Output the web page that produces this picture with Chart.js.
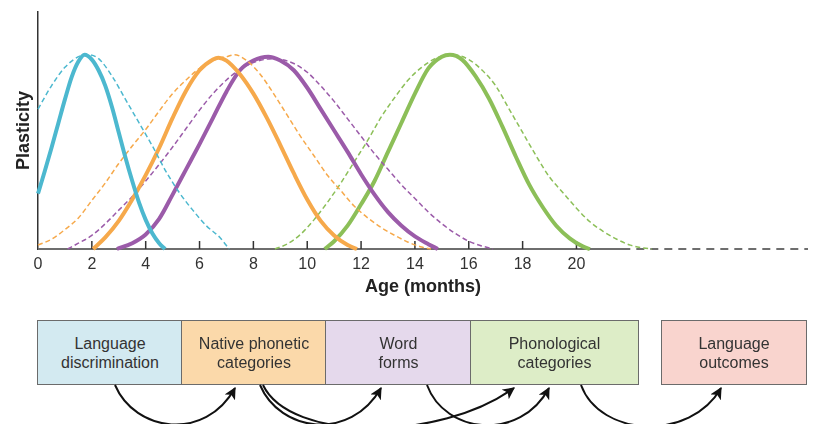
<!DOCTYPE html>
<html lang="en">
  <head>
    <meta charset="UTF-8" />
    <meta name="viewport" content="width=device-width, initial-scale=1.0" />
    <script src="https://cdn.jsdelivr.net/npm/chart.js@4.4.0/dist/chart.umd.min.js"></script>
    <title>Plasticity by age</title>
    <style>
      body {
        margin: 0;
        padding: 0;
        background: #fff;
        font-family: 'Liberation Sans', Arial, sans-serif;
      }

      .wrap {
        position: relative;
        width: 814px;
        height: 424px;
        overflow: hidden;
      }

      .chart-box {
        position: absolute;
        left: 0;
        top: 0;
        width: 814px;
        height: 424px;
      }

      .stage {
        position: absolute;
        top: 320px;
        height: 65px;
        box-sizing: border-box;
        border: 1.5px solid #6b6b6b;
        display: flex;
        align-items: center;
        justify-content: center;
        text-align: center;
        font-size: 16px;
        line-height: 19px;
        color: #333;
      }

      svg.arrows {
        position: absolute;
        left: 0;
        top: 0;
      }
    </style>
  </head>
  <body>
    <div class="wrap">
      <div class="chart-box">
        <canvas id="plasticity"></canvas>
      </div>

      <div class="stage" style="left: 37px; width: 146px; background: #d3eaf1">Language<br />discrimination</div>
      <div class="stage" style="left: 181px; width: 146px; background: #fbd9aa">Native phonetic<br />categories</div>
      <div class="stage" style="left: 325px; width: 147px; background: #e5d9ec">Word<br />forms</div>
      <div class="stage" style="left: 470px; width: 169px; background: #ddedc7">Phonological<br />categories</div>
      <div class="stage" style="left: 661px; width: 146px; background: #f9d4ce">Language<br />outcomes</div>

      <svg class="arrows" width="814" height="424">
        <defs>
          <marker id="head" viewBox="0 0 10 10" refX="9" refY="5" markerWidth="6" markerHeight="6" orient="auto">
            <path d="M0,0 L10,5 L0,10 L2.5,5 z" fill="#111" />
          </marker>
        </defs>
        <g fill="none" stroke="#111" stroke-width="2" marker-end="url(#head)">
          <path d="M115,385 C135,432 205,442 235,388" />
          <path d="M260,385 C280,432 350,442 381,388" />
          <path d="M263,385 C290,442 440,442 514,388" />
          <path d="M427,385 C445,434 520,442 549,388" />
          <path d="M581,385 C600,437 690,442 721,388" />
        </g>
      </svg>
    </div>

    <script>
      // x ticks shown under the axis (months)
      const tickValues = [0, 2, 4, 6, 8, 10, 12, 14, 16, 18, 20]
      const solidAxisEnd = 22
      const axisMax = 28.6

      // solid = observed window, dashed = wider window (same colour)
      const blueSolidX = [0, 0.25, 0.5, 0.75, 1, 1.25, 1.5, 1.73, 2, 2.25, 2.5, 2.75, 3, 3.25, 3.5, 3.75, 4, 4.25, 4.5, 4.72]
      const blueSolidY = [0.285, 0.4, 0.52, 0.645, 0.77, 0.885, 0.965, 1.0, 0.975, 0.92, 0.84, 0.73, 0.6, 0.47, 0.35, 0.24, 0.15, 0.08, 0.03, 0]

      const blueDashX = [0, 0.5, 1, 1.5, 1.86, 2.25, 2.75, 3.25, 3.75, 4.25, 4.75, 5.25, 5.75, 6.25, 6.75, 7.1]
      const blueDashY = [0.72, 0.84, 0.935, 0.99, 1.0, 0.98, 0.89, 0.77, 0.65, 0.53, 0.4, 0.29, 0.2, 0.12, 0.06, 0]

      const orangeSolidX = [2.05, 2.5, 3, 3.5, 4, 4.5, 5, 5.5, 6, 6.5, 6.7, 7, 7.5, 8, 8.5, 9, 9.5, 10, 10.5, 11, 11.5, 11.85]
      const orangeSolidY = [0, 0.06, 0.145, 0.255, 0.38, 0.52, 0.675, 0.815, 0.92, 0.975, 0.985, 0.97, 0.9, 0.8, 0.675, 0.535, 0.39, 0.255, 0.145, 0.07, 0.02, 0]

      const orangeDashX = [0, 0.5, 1, 1.5, 2, 2.5, 3, 3.5, 4, 4.5, 5, 5.5, 6, 6.5, 7, 7.3, 7.75, 8.25, 8.75, 9.25, 9.75, 10.25, 10.75, 11.25, 11.75, 12.25, 12.75, 13.25, 13.75, 14.25, 14.6]
      const orangeDashY = [0.02, 0.05, 0.1, 0.16, 0.25, 0.34, 0.44, 0.53, 0.615, 0.71, 0.8, 0.87, 0.93, 0.97, 0.99, 1.0, 0.97, 0.9, 0.8, 0.69, 0.58, 0.48, 0.38, 0.3, 0.22, 0.16, 0.11, 0.07, 0.035, 0.01, 0]

      const purpleSolidX = [2.93, 3.5, 4, 4.5, 5, 5.5, 6, 6.5, 7, 7.5, 8, 8.55, 9, 9.5, 10, 10.5, 11, 11.5, 12, 12.5, 13, 13.5, 14, 14.5, 14.85]
      const purpleSolidY = [0, 0.03, 0.075, 0.155, 0.28, 0.41, 0.54, 0.675, 0.81, 0.92, 0.97, 0.99, 0.97, 0.92, 0.83, 0.72, 0.61, 0.5, 0.385, 0.28, 0.19, 0.12, 0.065, 0.025, 0]

      const purpleDashX = [1.1, 1.5, 2, 2.5, 3, 3.5, 4, 4.5, 5, 5.5, 6, 6.5, 7, 7.5, 8, 8.75, 9.5, 10, 10.5, 11, 11.5, 12, 12.5, 13, 13.5, 14, 14.5, 15, 15.5, 16, 16.5, 16.9]
      const purpleDashY = [0, 0.03, 0.07, 0.13, 0.2, 0.27, 0.35, 0.435, 0.525, 0.62, 0.715, 0.8, 0.87, 0.925, 0.96, 0.98, 0.955, 0.91, 0.84, 0.76, 0.67, 0.58, 0.49, 0.41, 0.33, 0.26, 0.19, 0.13, 0.08, 0.04, 0.015, 0]

      const greenSolidX = [10.65, 11, 11.5, 12, 12.5, 13, 13.5, 14, 14.5, 15, 15.3, 15.75, 16.25, 16.75, 17.25, 17.75, 18.25, 18.75, 19.25, 19.75, 20.25, 20.5]
      const greenSolidY = [0, 0.04, 0.12, 0.23, 0.35, 0.5, 0.65, 0.8, 0.93, 0.99, 1.0, 0.975, 0.89, 0.775, 0.63, 0.475, 0.33, 0.215, 0.12, 0.055, 0.012, 0]

      const greenDashX = [8.8, 9.25, 9.75, 10.25, 10.75, 11.25, 11.75, 12.25, 12.75, 13.25, 13.75, 14.25, 14.75, 15.4, 16, 16.5, 17, 17.5, 18, 18.5, 19, 19.5, 20, 20.5, 21, 21.5, 22, 22.5, 22.8]
      const greenDashY = [0, 0.025, 0.075, 0.15, 0.24, 0.34, 0.45, 0.56, 0.68, 0.78, 0.87, 0.935, 0.98, 1.0, 0.975, 0.92, 0.84, 0.72, 0.6, 0.48, 0.37, 0.29, 0.21, 0.14, 0.09, 0.05, 0.02, 0.005, 0]

      const blue = '#4cb8cf'
      const orange = '#f6a94b'
      const purple = '#9b5ba9'
      const green = '#8cbf58'

      const pts = (xs, ys) => xs.map((x, i) => ({ x, y: ys[i] }))

      const solid = (xs, ys, color) => ({
        data: pts(xs, ys),
        borderColor: color,
        borderWidth: 4,
        pointRadius: 0,
        cubicInterpolationMode: 'monotone',
        clip: false,
      })

      const dashed = (xs, ys, color) => ({
        data: pts(xs, ys),
        borderColor: color,
        borderWidth: 1.5,
        borderDash: [5, 3],
        pointRadius: 0,
        cubicInterpolationMode: 'monotone',
        clip: false,
      })

      // baseline (solid to 22 months, dashed after) and small upward tick marks
      const axisPlugin = {
        id: 'axisPlugin',
        beforeDatasetsDraw(chart) {
          const { ctx, scales: { x, y } } = chart
          const y0 = y.getPixelForValue(0)
          const xEnd = x.getPixelForValue(solidAxisEnd)
          ctx.save()
          ctx.strokeStyle = '#6e6e6e'
          ctx.lineWidth = 2
          ctx.beginPath()
          ctx.moveTo(x.getPixelForValue(0), y0)
          ctx.lineTo(xEnd, y0)
          ctx.stroke()
          ctx.setLineDash([8, 6])
          ctx.beginPath()
          ctx.moveTo(xEnd + 6, y0)
          ctx.lineTo(x.right, y0)
          ctx.stroke()
          ctx.setLineDash([])
          ctx.strokeStyle = '#333'
          ctx.lineWidth = 1.5
          tickValues.forEach((v) => {
            if (v === 0) return
            const px = x.getPixelForValue(v)
            ctx.beginPath()
            ctx.moveTo(px, y0)
            ctx.lineTo(px, y0 - 8)
            ctx.stroke()
          })
          ctx.restore()
        },
      }

      const ctx = document.getElementById('plasticity').getContext('2d')
      const chart = new Chart(ctx, {
        type: 'line',
        data: {
          datasets: [
            solid(blueSolidX, blueSolidY, blue),
            dashed(blueDashX, blueDashY, blue),
            solid(orangeSolidX, orangeSolidY, orange),
            dashed(orangeDashX, orangeDashY, orange),
            solid(purpleSolidX, purpleSolidY, purple),
            dashed(purpleDashX, purpleDashY, purple),
            solid(greenSolidX, greenSolidY, green),
            dashed(greenDashX, greenDashY, green),
          ],
        },
        options: {
          responsive: true,
          maintainAspectRatio: false,
          animation: false,
          layout: {
            padding: { top: 12, right: 6, bottom: 115, left: 0 },
          },
          plugins: {
            legend: { display: false },
            tooltip: { enabled: false },
          },
          scales: {
            x: {
              type: 'linear',
              min: 0,
              max: axisMax,
              afterFit: (scale) => {
                scale.height = 60
              },
              grid: { display: false },
              border: { display: false },
              ticks: {
                stepSize: 2,
                autoSkip: false,
                maxRotation: 0,
                padding: -2,
                color: '#333',
                font: { family: 'Liberation Sans', size: 16 },
                callback: (v) => (tickValues.includes(v) ? v : ''),
              },
              title: {
                display: true,
                text: 'Age (months)',
                color: '#222',
                font: { family: 'Liberation Sans', size: 18, weight: 'bold', lineHeight: 1.2 },
                padding: { top: 0, bottom: 11 },
              },
            },
            y: {
              min: 0,
              max: 1.22,
              afterFit: (scale) => {
                scale.width = 38
              },
              grid: { display: false },
              border: { display: true, color: '#333', width: 1.5 },
              ticks: { display: false },
              title: {
                display: true,
                text: 'Plasticity',
                color: '#222',
                font: { family: 'Liberation Sans', size: 18, weight: 'bold', lineHeight: 1.2 },
                padding: { top: 13, bottom: 0 },
              },
            },
          },
        },
        plugins: [axisPlugin],
      })
    </script>
  </body>
</html>
